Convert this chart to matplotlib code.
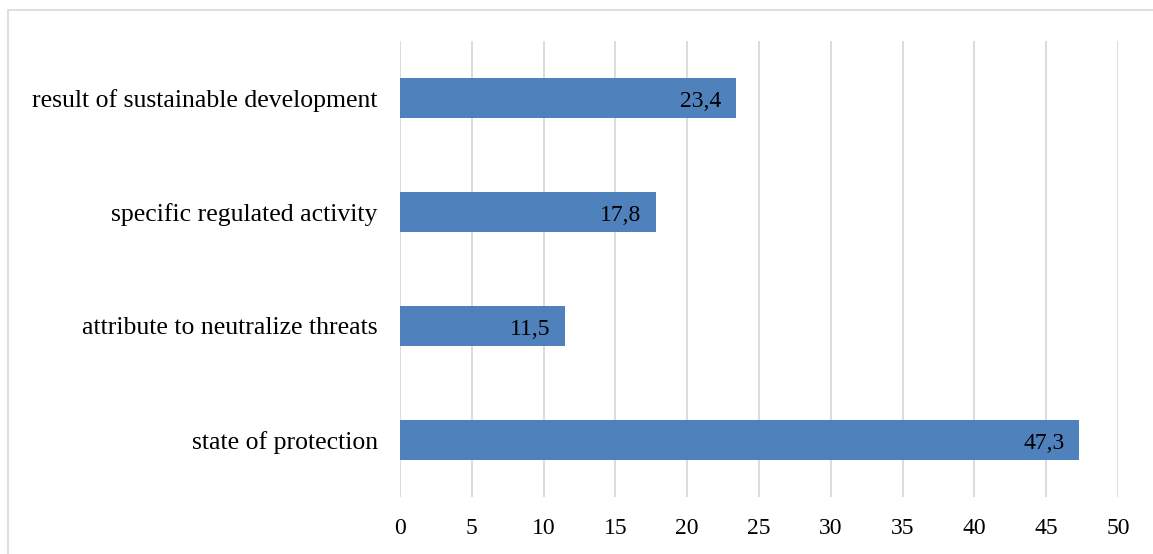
import matplotlib
matplotlib.use("Agg")
import matplotlib.pyplot as plt
from matplotlib.patches import Rectangle

categories = ["state of protection", "attribute to neutralize threats",
              "specific regulated activity", "result of sustainable development"]
values = [47.3, 11.5, 17.8, 23.4]
xticks = list(range(0, 55, 5))

plt.rcParams["font.family"] = ["Liberation Serif", "DejaVu Serif"]

fig = plt.figure(figsize=(11.53, 5.54), dpi=100)
ax = fig.add_axes([400 / 1153, 57 / 554, 718 / 1153, 456 / 554])

bars = ax.barh(range(len(categories)), values, height=0.35, color="#4F81BD", zorder=3)
for b, v in zip(bars, values):
    ax.text(b.get_width() - 1.0, b.get_y() + b.get_height() / 2 - 0.03,
            f"{v:.1f}".replace(".", ","), ha="right", va="center",
            fontsize=17, color="black", zorder=4)

ax.set_xlim(0, 50)
ax.set_ylim(-0.5, len(categories) - 0.5)
ax.set_xticks(xticks)
ax.set_yticks(range(len(categories)))
ax.set_yticklabels(categories)
ax.grid(axis="x", color="#D9D9D9", lw=1.3, zorder=0)
for s in ax.spines.values():
    s.set_visible(False)
ax.tick_params(axis="both", length=0)
ax.tick_params(axis="y", pad=16, labelsize=18.5)
ax.tick_params(axis="x", pad=15, labelsize=17)

fig.patches.append(Rectangle((8 / 1153, -0.1), 1.5, 1.1 - 10 / 554,
                             transform=fig.transFigure, fill=False,
                             edgecolor="#D9D9D9", lw=1.2))

fig.savefig("out.png", dpi=100)
